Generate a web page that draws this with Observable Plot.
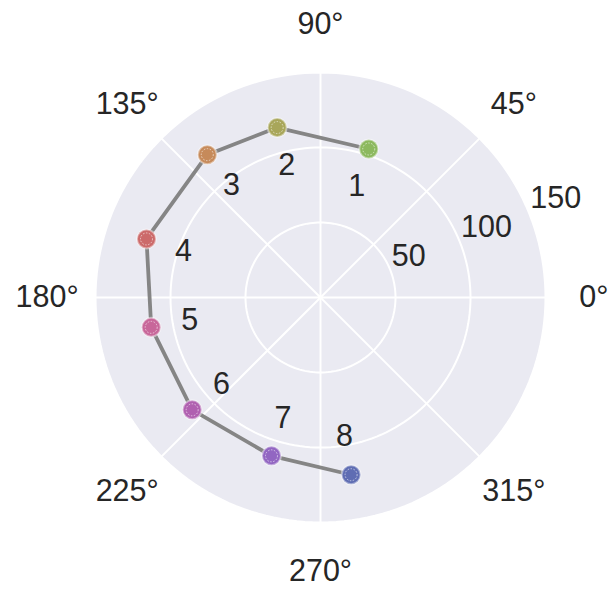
<!DOCTYPE html>
<html>
<head>
<meta charset="utf-8">
<script src="https://cdn.jsdelivr.net/npm/d3@7"></script>
<script src="https://cdn.jsdelivr.net/npm/@observablehq/plot@0.6"></script>
<style>
  html, body { margin: 0; padding: 0; background: #ffffff; }
  #chart svg { display: block; }
</style>
</head>
<body>
<div id="chart"></div>
<script>
// ---- data ----
const pointLabels = ["1", "2", "3", "4", "5", "6", "7", "8"];
const thetaDeg = [72.0, 104.3, 128.4, 161.4, 190.0, 221.2, 252.8, 279.8];
const radius = [104.1, 116.9, 121.5, 122.4, 114.6, 113.7, 110.5, 119.9];
const pointColors = ["#8cb95e", "#a8a65a", "#c68a5a", "#cc6a6a", "#c8679a", "#b060b0", "#9266c2", "#5f6db3"];
const radialTicks = [50, 100, 150];
const radialTickLabels = ["50", "100", "150"];
const angleTicks = [0, 45, 90, 135, 180, 225, 270, 315];
const angleTickLabels = ["0°", "45°", "90°", "135°", "180°", "225°", "270°", "315°"];
const rMax = 150;

// ---- helpers ----
const rad = d => d * Math.PI / 180;
const px = (t, r) => r * Math.cos(rad(t));
const py = (t, r) => r * Math.sin(rad(t));

const points = pointLabels.map((label, i) => ({label, t: thetaDeg[i], r: radius[i], color: pointColors[i]}));

const circleSteps = d3.range(0, 361, 2);
const circle = r => circleSteps.map(t => ({t, r}));
const gridCircles = radialTicks.flatMap(r => circle(r));
const disk = circle(rMax);
const spokes = angleTicks.map(t => ({t}));
const rTicks = radialTicks.map((r, i) => ({r, label: radialTickLabels[i]}));
const aTicks = angleTicks.map((t, i) => ({t, label: angleTickLabels[i]}));

const labelInset = 26;      // point labels sit inside each point
const angleLabelR = rMax * 1.215;
const rTickAngle = 22.5;
const textColor = "#262626";
const font = 30.5;

const chart = Plot.plot({
  width: 608,
  height: 590,
  marginLeft: 95,
  marginRight: 63,
  marginTop: 72,
  marginBottom: 68,
  x: {domain: [-rMax, rMax], axis: null},
  y: {domain: [-rMax, rMax], axis: null},
  style: {fontFamily: "'Liberation Sans', Arial, Helvetica, sans-serif", background: "#ffffff", overflow: "visible"},
  marks: [
    Plot.line(disk, {x: d => px(d.t, d.r), y: d => py(d.t, d.r), fill: "#eaeaf2", stroke: "none"}),
    Plot.line(gridCircles, {x: d => px(d.t, d.r), y: d => py(d.t, d.r), z: "r", stroke: "#ffffff", strokeWidth: 2}),
    Plot.link(spokes, {x1: 0, y1: 0, x2: d => px(d.t, rMax), y2: d => py(d.t, rMax), stroke: "#ffffff", strokeWidth: 2}),
    Plot.text(rTicks, {x: d => px(rTickAngle, d.r), y: d => py(rTickAngle, d.r), text: "label",
      textAnchor: "start", dx: 2, dy: -13, fontSize: font, fill: textColor}),
    Plot.text(aTicks, {x: d => px(d.t, angleLabelR), y: d => py(d.t, angleLabelR), text: "label",
      textAnchor: "middle", lineAnchor: "middle", fontSize: font, fill: textColor}),
    Plot.line(points, {x: d => px(d.t, d.r), y: d => py(d.t, d.r), stroke: "#858585", strokeWidth: 3.8}),
    Plot.dot(points, {x: d => px(d.t, d.r), y: d => py(d.t, d.r), r: 9.5, fill: d => d.color,
      stroke: "#ffffff", strokeOpacity: 0.45, strokeWidth: 2}),
    Plot.dot(points, {x: d => px(d.t, d.r), y: d => py(d.t, d.r), r: 6, fill: "none",
      stroke: "#ffffff", strokeOpacity: 0.75, strokeWidth: 0.8, strokeDasharray: "1.5,1.5"}),
    Plot.text(points, {x: d => px(d.t, d.r - labelInset), y: d => py(d.t, d.r - labelInset), text: "label",
      textAnchor: "middle", lineAnchor: "middle", fontSize: font, fill: textColor})
  ]
});
document.getElementById("chart").appendChild(chart);
</script>
</body>
</html>
